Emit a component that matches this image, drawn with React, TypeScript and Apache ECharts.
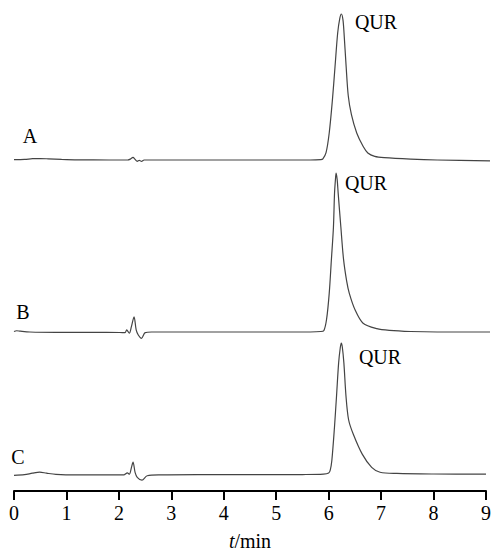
import React, { useEffect, useRef } from "react";
import * as echarts from "echarts";

const xTicks = [0, 1, 2, 3, 4, 5, 6, 7, 8, 9];

const traceA: [number, number][] = [
  [0, 0.2], [0.2, 0.4], [0.35, 0.9], [0.5, 1.0], [0.65, 0.8], [0.9, 0.4], [1.2, 0.1], [1.8, 0], [2.15, 0],
  [2.2, 0.6], [2.25, 1.8], [2.29, 0.4], [2.33, -0.9], [2.37, -0.2], [2.41, -1.0], [2.46, 0], [3, 0], [4, 0],
  [5, 0], [5.6, 0], [5.8, 0.3], [5.84, 0.8], [5.9, 5], [5.96, 18.5], [6.02, 41], [6.07, 64], [6.12, 87],
  [6.16, 97], [6.19, 100], [6.22, 96], [6.24, 87], [6.28, 64], [6.32, 44], [6.38, 31], [6.48, 18.5],
  [6.6, 9.4], [6.69, 4.8], [6.82, 2.5], [7, 1.6], [7.5, 0.6], [8, 0], [9, -0.6],
];

const traceB: [number, number][] = [
  [0, 0.3], [0.05, 0.8], [0.12, 0.5], [0.3, 0], [0.8, -0.2], [1.5, -0.2], [2.0, -0.3], [2.1, -0.4],
  [2.13, 1.3], [2.18, -0.8], [2.22, 3.4], [2.27, 9.6], [2.31, 1.3], [2.35, -1.9], [2.41, -4], [2.48, -0.4],
  [2.6, 0], [3, 0], [4, 0], [5, 0], [5.6, 0], [5.8, 0.3], [5.86, 1], [5.91, 8], [5.96, 24.3], [6.0, 45],
  [6.04, 66], [6.06, 87], [6.08, 97], [6.09, 100], [6.11, 96], [6.13, 87], [6.18, 66], [6.23, 46],
  [6.29, 32], [6.34, 24.3], [6.45, 13.8], [6.6, 5.5], [6.86, 2.1], [7.1, 1], [7.5, 0.3], [8, 0], [9, 0],
];

const traceC: [number, number][] = [
  [0, 0], [0.2, 0.5], [0.35, 1.6], [0.49, 2.4], [0.62, 1.6], [0.8, 0.7], [1.2, 0.3], [1.8, 0.3], [2.1, 0.4],
  [2.16, 1.8], [2.2, 0.8], [2.24, 6], [2.27, 9.9], [2.31, 2], [2.35, -1.5], [2.44, -3.7], [2.54, -0.3],
  [2.8, 0.3], [3.5, 0.5], [4.5, 0.5], [5.5, 0.6], [5.9, 0.9], [6.0, 1.8], [6.03, 4], [6.06, 11],
  [6.11, 36], [6.15, 60], [6.19, 85], [6.22, 96], [6.24, 100], [6.26, 97], [6.29, 85], [6.33, 60],
  [6.38, 42], [6.47, 31], [6.64, 16], [6.82, 6], [6.98, 2.3], [7.3, 1.4], [8, 1], [9, 0.9],
];

const traceLabels = ["A", "B", "C"];
const peakLabel = "QUR";

export default function App() {
  const ref = useRef<HTMLDivElement>(null);
  useEffect(() => {
    if (!ref.current) return;
    const chart = echarts.init(ref.current, null, { renderer: "svg" });
    const serif = "'Liberation Serif', 'Times New Roman', serif";
    const grids = [
      { left: 14, right: 4, top: 14, height: 160.6 },
      { left: 14, right: 4, top: 173, height: 174.9 },
      { left: 14, right: 4, top: 343, height: 151 },
    ];
    const yMins = [-10, -10, -11.85];
    const traces = [traceA, traceB, traceC];
    const textPos = [
      { x: 30, y: 136 },
      { x: 23, y: 312 },
      { x: 18, y: 457 },
    ];
    const peakPos = [
      { x: 376, y: 22 },
      { x: 366, y: 183 },
      { x: 380, y: 357 },
    ];
    chart.setOption({
      animation: false,
      grid: grids,
      xAxis: grids.map((_, i) => ({
        type: "value",
        gridIndex: i,
        min: 0,
        max: 9,
        interval: 1,
        show: i === 2,
        splitLine: { show: false },
        axisLine: { show: true, onZero: false, lineStyle: { color: "#000", width: 2 } },
        axisTick: { show: true, length: 9, lineStyle: { color: "#000", width: 2 } },
        axisLabel: {
          show: true,
          margin: 12,
          fontSize: 20,
          fontFamily: serif,
          color: "#000",
          formatter: (v: number) => (xTicks.includes(v) ? String(v) : ""),
        },
        name: i === 2 ? "{i|t}/min" : "",
        nameLocation: "middle",
        nameGap: 40,
        nameTextStyle: {
          fontSize: 20,
          fontFamily: serif,
          color: "#000",
          rich: {
            i: { fontSize: 20, fontFamily: serif, fontStyle: "italic", color: "#000" },
          },
        },
      })),
      yAxis: grids.map((_, i) => ({
        type: "value",
        gridIndex: i,
        min: yMins[i],
        max: 100,
        show: false,
        splitLine: { show: false },
      })),
      series: traces.map((d, i) => ({
        type: "line",
        xAxisIndex: i,
        yAxisIndex: i,
        data: d,
        showSymbol: false,
        symbol: "none",
        smooth: 0.3,
        clip: false,
        lineStyle: { color: "#444", width: 1.2 },
      })),
      graphic: [
        ...traceLabels.map((t, i) => ({
          type: "text",
          x: textPos[i].x,
          y: textPos[i].y,
          style: {
            text: t,
            fontSize: 20,
            fontFamily: serif,
            fill: "#000",
            align: "center",
            verticalAlign: "middle",
          },
        })),
        ...peakPos.map((p) => ({
          type: "text",
          x: p.x,
          y: p.y,
          style: {
            text: peakLabel,
            fontSize: 20,
            fontFamily: serif,
            fill: "#000",
            align: "center",
            verticalAlign: "middle",
          },
        })),
      ],
    });
    return () => chart.dispose();
  }, []);
  return (
    <div
      ref={ref}
      style={{ position: "fixed", left: 0, top: 0, width: 494, height: 552, background: "#fff" }}
    />
  );
}
